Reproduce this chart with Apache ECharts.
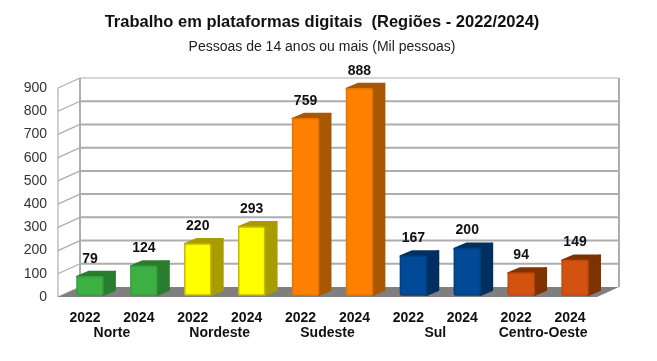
<!DOCTYPE html>
<html><head><meta charset="utf-8">
<style>html,body{margin:0;padding:0;background:#fff}#c{width:657px;height:361px}</style>
<script src="https://cdn.jsdelivr.net/npm/echarts@6/dist/echarts.min.js"></script>
</head><body><div id="c"></div>
<script>
const years = ['2022','2024','2022','2024','2022','2024','2022','2024','2022','2024'];
const regions = ['Norte','Nordeste','Sudeste','Sul','Centro-Oeste'];
const values = [79,124,220,293,759,888,167,200,94,149];
const yTicks = [0,100,200,300,400,500,600,700,800,900];
const frontColors = ['#3cb043','#ffff00','#ff8000','#004a97','#d4520f'];
const sideColors = ['#2a7d2e','#a89c00','#a85800','#00305f','#7f3300'];
const edgeColors = ['#35a03c','#c9b800','#e87400','#004080','#c04a0c'];
const FONT = '"Liberation Sans", Arial, sans-serif';
const wallDx = 22, wallDy = 10, barDx = 12, barDy = 5, barShift = 5, baseLift = 2;
const wallColor = '#adadad';

const chart = echarts.init(document.getElementById('c'), null, {renderer:'canvas'});

function renderWall(params, api){
  const sys = params.coordSys;
  const v = api.value(0);
  const y = api.coord([0, v])[1];
  const x0 = sys.x, x1 = sys.x + sys.width;
  const isTop = v === yTicks[yTicks.length-1];
  const w = isTop ? 1.2 : 2;
  return {type:'group', children:[
    {type:'line', shape:{x1:x0,y1:y,x2:x0+wallDx,y2:y-wallDy}, style:{stroke:wallColor,lineWidth:1.3}},
    v === 0 ? {type:'group'} : {type:'line', shape:{x1:x0+wallDx,y1:y-wallDy,x2:x1+wallDx,y2:y-wallDy}, style:{stroke:wallColor,lineWidth:w}}
  ]};
}
function renderFrame(params, api){
  const s = params.coordSys;
  const top = s.y, bot = s.y + s.height, l = s.x, r = s.x + s.width;
  return {type:'group', children:[
    {type:'line', shape:{x1:l,y1:top,x2:l,y2:bot}, style:{stroke:wallColor,lineWidth:1.2}},
    {type:'line', shape:{x1:l+wallDx,y1:top-wallDy,x2:l+wallDx,y2:bot-wallDy}, style:{stroke:wallColor,lineWidth:2}},
    {type:'line', shape:{x1:r+wallDx,y1:top-wallDy,x2:r+wallDx,y2:bot-wallDy}, style:{stroke:wallColor,lineWidth:2}},
    {type:'polygon', shape:{points:[[l,bot],[r,bot],[r+wallDx,bot-wallDy],[l+wallDx,bot-wallDy]]}, style:{fill:'#7f7f7f'}}
  ]};
}
function renderBar(params, api){
  const i = api.value(0), v = api.value(1);
  const p = api.coord([i, v]);
  const base = api.coord([i, 0])[1] - baseLift;
  const top = p[1] - baseLift;
  const w = api.size([1,0])[0] * 0.48;
  const x = p[0] + barShift - w/2;
  const g = Math.floor(i/2);
  const side = sideColors[g], front = frontColors[g], edge = edgeColors[g];
  return {type:'group', children:[
    {type:'polygon', shape:{points:[[x+w,top],[x+w+barDx,top-barDy],[x+w+barDx,base-barDy],[x+w,base]]}, style:{fill:side,stroke:side,lineWidth:2,lineJoin:'round'}},
    {type:'polygon', shape:{points:[[x,top],[x+w,top],[x+w+barDx,top-barDy],[x+barDx,top-barDy]]}, style:{fill:side,stroke:side,lineWidth:2,lineJoin:'round'}},
    {type:'rect', shape:{x:x,y:top,width:w,height:base-top,r:1}, style:{fill:front,stroke:edge,lineWidth:1.5}},
    {type:'text', style:{text:String(v),x:x+w/2,y:top-18,align:'center',verticalAlign:'middle',font:'bold 14px '+FONT,fill:'#111'}}
  ]};
}

chart.setOption({
  animation:false,
  backgroundColor:'#fff',
  title:[
    {text:'Trabalho em plataformas digitais  (Regiões - 2022/2024)',left:317,top:9,textAlign:'center',textStyle:{fontFamily:FONT,fontSize:16.5,fontWeight:'bold',color:'#111'}},
    {text:'Pessoas de 14 anos ou mais (Mil pessoas)',left:317,top:35,textAlign:'center',textStyle:{fontFamily:FONT,fontSize:14,fontWeight:'normal',color:'#222'}}
  ],
  grid:{left:58,right:60,top:88,bottom:64,containLabel:false},
  xAxis:[
    {type:'category',data:years,position:'bottom',axisLine:{show:false},axisTick:{show:false},
     axisLabel:{interval:0,margin:14,fontFamily:FONT,fontSize:14,fontWeight:'bold',color:'#111'}},
    {type:'category',data:regions,position:'bottom',offset:29,axisLine:{show:false},axisTick:{show:false},
     axisLabel:{interval:0,margin:0,fontFamily:FONT,fontSize:14,fontWeight:'bold',color:'#111'}}
  ],
  yAxis:{type:'value',min:0,max:900,interval:100,splitLine:{show:false},axisLine:{show:false},axisTick:{show:false},
     axisLabel:{margin:11,fontFamily:FONT,fontSize:14,color:'#333'}},
  series:[
    {type:'custom',name:'grid',coordinateSystem:'cartesian2d',xAxisIndex:0,clip:false,silent:true,data:yTicks.map(t=>[t]),encode:{y:0},renderItem:renderWall,z:1},
    {type:'custom',name:'frame',coordinateSystem:'cartesian2d',xAxisIndex:0,clip:false,silent:true,data:[[0]],encode:{y:0},renderItem:renderFrame,z:2},
    {type:'custom',name:'valores',coordinateSystem:'cartesian2d',xAxisIndex:0,clip:false,data:values.map((v,i)=>[i,v]),encode:{x:0,y:1},renderItem:renderBar,z:3}
  ]
});
</script></body></html>
